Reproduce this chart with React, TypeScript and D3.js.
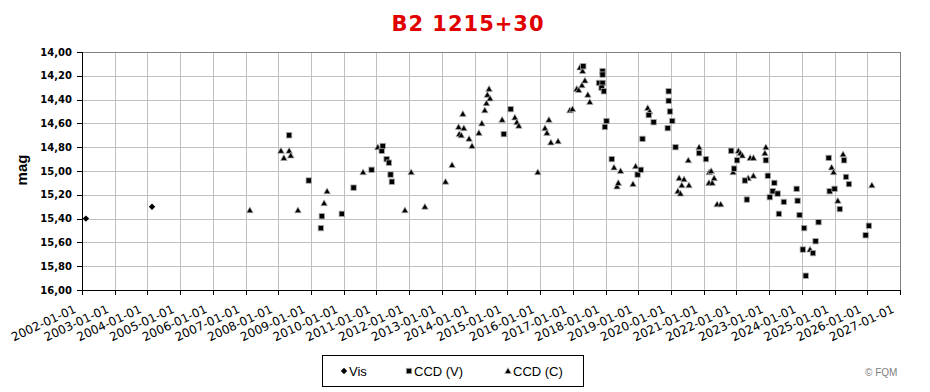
import React from "react";
import * as d3 from "d3";

const title = "B2 1215+30";
const yTicks = [14.0, 14.2, 14.4, 14.6, 14.8, 15.0, 15.2, 15.4, 15.6, 15.8, 16.0];
const xTickYears = d3.range(2002, 2028);
const xTickLabels = xTickYears.map((y) => `${y}-01-01`);

const visYears = [2002.12, 2004.14];
const visMags = [15.4, 15.3];

const ccdVYears = [
  2008.33, 2008.93, 2009.3, 2009.33, 2009.94, 2010.3, 2010.85, 2011.16, 2011.19, 2011.31,
  2011.38, 2011.43, 2011.47, 2014.89, 2015.1, 2017.32, 2017.8, 2017.91, 2017.91, 2017.91,
  2017.88, 2017.95, 2018.03, 2017.98, 2018.19, 2018.98, 2019.08, 2019.13, 2019.32, 2019.47,
  2019.93, 2019.93, 2019.97, 2020.04, 2019.9, 2020.14, 2020.86, 2021.07, 2021.84, 2021.93,
  2022.02, 2022.32, 2022.26, 2022.9, 2022.96, 2023.02, 2023.11, 2023.16, 2023.26, 2023.3,
  2023.45, 2023.84, 2023.87, 2023.93, 2024.03, 2024.07, 2024.12, 2024.34, 2024.42, 2024.51,
  2024.82, 2024.85, 2025.0, 2025.16, 2025.29, 2025.35, 2025.44, 2025.95, 2026.05,
];
const ccdVMags = [
  14.7, 15.08, 15.48, 15.38, 15.36, 15.14, 14.99, 14.83, 14.79, 14.9,
  14.93, 15.03, 15.09, 14.69, 14.48, 14.12, 14.26, 14.16, 14.19, 14.26,
  14.3, 14.33, 14.58, 14.63, 14.9, 15.03, 14.99, 14.73, 14.53, 14.59,
  14.33, 14.41, 14.5, 14.58, 14.64, 14.8, 14.85, 14.9, 14.83, 14.98,
  14.91, 15.24, 15.08, 14.91, 15.04, 15.22, 15.17, 15.1, 15.19, 15.36,
  15.26, 15.15, 15.25, 15.37, 15.66, 15.48, 15.88, 15.69, 15.59, 15.43,
  14.89, 15.17, 15.15, 15.32, 14.91, 15.05, 15.11, 15.54, 15.46,
];

const ccdCYears = [
  2007.13, 2008.08, 2008.17, 2008.33, 2008.38, 2008.6, 2009.4, 2009.49, 2010.59, 2011.04,
  2011.87, 2012.06, 2012.48, 2013.11, 2013.31, 2013.51, 2013.53, 2013.59, 2013.64, 2013.67,
  2013.83, 2013.92, 2014.13, 2014.22, 2014.31, 2014.36, 2014.39, 2014.44, 2014.47, 2014.84,
  2015.23, 2015.29, 2015.35, 2015.93, 2016.15, 2016.21, 2016.27, 2016.33, 2016.55, 2016.91,
  2016.99, 2017.12, 2017.18, 2017.22, 2017.28, 2017.3, 2017.37, 2017.46, 2017.52, 2018.26,
  2018.35, 2018.39, 2018.46, 2018.84, 2018.92, 2019.29, 2019.35, 2020.21, 2020.25, 2020.29,
  2020.33, 2020.4, 2020.53, 2020.55, 2020.86, 2021.16, 2021.17, 2021.23, 2021.26, 2021.32,
  2021.41, 2021.52, 2021.9, 2022.06, 2022.12, 2022.18, 2022.36, 2022.42, 2022.52, 2022.52,
  2022.87, 2022.9, 2024.25, 2024.91, 2024.97, 2025.1, 2025.26, 2026.14,
];
const ccdCMags = [
  15.33, 14.83, 14.89, 14.83, 14.87, 15.33, 15.27, 15.17, 15.01, 14.8,
  15.33, 15.01, 15.3, 15.09, 14.95, 14.63, 14.69, 14.7, 14.52, 14.64,
  14.73, 14.79, 14.68, 14.6, 14.49, 14.43, 14.36, 14.31, 14.39, 14.57,
  14.55, 14.59, 14.62, 15.01, 14.64, 14.68, 14.57, 14.76, 14.75, 14.49,
  14.48, 14.31, 14.32, 14.13, 14.28, 14.16, 14.24, 14.36, 14.42, 14.97,
  15.13, 15.1, 15.0, 15.11, 14.96, 14.47, 14.5, 15.17, 15.06, 15.19,
  15.12, 15.07, 14.91, 15.12, 14.8, 15.1, 15.01, 15.0, 15.1, 15.06,
  15.28, 15.28, 15.01, 14.83, 14.85, 14.87, 15.06, 14.89, 14.89, 15.04,
  14.85, 14.8, 15.66, 14.97, 15.01, 15.25, 14.86, 15.12,
];

const legendLabels = ["Vis", "CCD (V)", "CCD (C)"];

const W = 930;
const H = 392;
const M = { left: 82, right: 900, top: 52, bottom: 290 };

const diamondPath = "M0,-3.2L3.2,0L0,3.2L-3.2,0Z";
const trianglePath = "M0,-3.3L3.3,2.5L-3.3,2.5Z";

function Diamond({ x, y }: { x: number; y: number }) {
  return <path d={diamondPath} transform={`translate(${x},${y})`} fill="#000" />;
}
function Square({ x, y }: { x: number; y: number }) {
  return (
    <rect x={x - 2.7} y={y - 2.7} width={5.4} height={5.4} fill="#000" stroke="#a8a8a8" strokeWidth={0.8} />
  );
}
function Triangle({ x, y }: { x: number; y: number }) {
  return (
    <path d={trianglePath} transform={`translate(${x},${y})`} fill="#000" stroke="#b0b0b0" strokeWidth={0.7} />
  );
}

export default function App() {
  const x = d3.scaleLinear().domain([2002, 2027]).range([M.left, M.right]);
  const y = d3.scaleLinear().domain([14, 16]).range([M.top, M.bottom]);
  const fmt = (v: number) => v.toFixed(2).replace(".", ",");
  const px = (v: number) => Math.round(v) + 0.5;

  return (
    <svg
      width={W}
      height={H}
      style={{ position: "absolute", left: 0, top: 0, background: "#fff" }}
      fontFamily="'Liberation Sans', Arial, sans-serif"
    >
      <rect x={0} y={0} width={W} height={H} fill="#fff" />
      <text
        x={468}
        y={31}
        textAnchor="middle"
        fill="#e00000"
        fontFamily="'DejaVu Sans', Verdana, sans-serif"
        fontWeight="bold"
        fontSize={21}
        letterSpacing={1}
      >
        {title}
      </text>

      {/* gridlines */}
      {yTicks.slice(1, -1).map((t) => (
        <line key={"hy" + t} x1={M.left} x2={M.right} y1={px(y(t))} y2={px(y(t))} stroke="#c0c0c0" />
      ))}
      {xTickYears.slice(1, -1).map((t) => (
        <line key={"gx" + t} x1={px(x(t))} x2={px(x(t))} y1={M.top} y2={M.bottom} stroke="#c0c0c0" />
      ))}
      {/* border */}
      <line x1={M.left} x2={M.right} y1={px(M.top)} y2={px(M.top)} stroke="#808080" />
      <line x1={px(M.right)} x2={px(M.right)} y1={M.top} y2={M.bottom} stroke="#808080" />
      {/* axes */}
      <line x1={px(M.left)} x2={px(M.left)} y1={M.top} y2={M.bottom + 0.5} stroke="#000" />
      <line x1={M.left} x2={M.right + 1} y1={px(M.bottom)} y2={px(M.bottom)} stroke="#000" />

      {yTicks.map((t) => (
        <g key={"yt" + t}>
          <line x1={M.left - 5} x2={M.left} y1={px(y(t))} y2={px(y(t))} stroke="#000" />
          <text
            x={72}
            y={y(t)}
            dy="0.36em"
            textAnchor="end"
            fontFamily="'DejaVu Sans', Verdana, sans-serif"
            fontWeight="bold"
            fontSize={10}
            fill="#000"
          >
            {fmt(t)}
          </text>
        </g>
      ))}
      {xTickYears.map((t, i) => (
        <g key={"xt" + t}>
          <line x1={px(x(t))} x2={px(x(t))} y1={M.bottom} y2={M.bottom + 5} stroke="#000" />
          <text
            transform={`translate(${x(t) - 5},${M.bottom + 22}) rotate(-25)`}
            textAnchor="end"
            fontFamily="'DejaVu Sans', Verdana, sans-serif"
            fontSize={12}
            fill="#000"
          >
            {xTickLabels[i]}
          </text>
        </g>
      ))}
      <text
        transform={`translate(27,170) rotate(-90)`}
        textAnchor="middle"
        fontWeight="bold"
        fontSize={15}
        fill="#000"
      >
        mag
      </text>

      {/* data */}
      {ccdCYears.map((t, i) => (
        <Triangle key={"c" + i} x={x(t)} y={y(ccdCMags[i])} />
      ))}
      {ccdVYears.map((t, i) => (
        <Square key={"v" + i} x={x(t)} y={y(ccdVMags[i])} />
      ))}
      {visYears.map((t, i) => (
        <Diamond key={"d" + i} x={x(t)} y={y(visMags[i])} />
      ))}

      {/* legend */}
      <rect x={322.5} y={355.5} width={261} height={31} fill="#fff" stroke="#000" />
      <Diamond x={344} y={371} />
      <text x={349} y={376} fontSize={13} fill="#000">{legendLabels[0]}</text>
      <Square x={409} y={371} />
      <text x={414} y={376} fontSize={13} fill="#000">{legendLabels[1]}</text>
      <Triangle x={508} y={371} />
      <text x={513} y={376} fontSize={13} fill="#000">{legendLabels[2]}</text>

      <text x={865} y={376} fontSize={10} fill="#808080">© FQM</text>
    </svg>
  );
}
